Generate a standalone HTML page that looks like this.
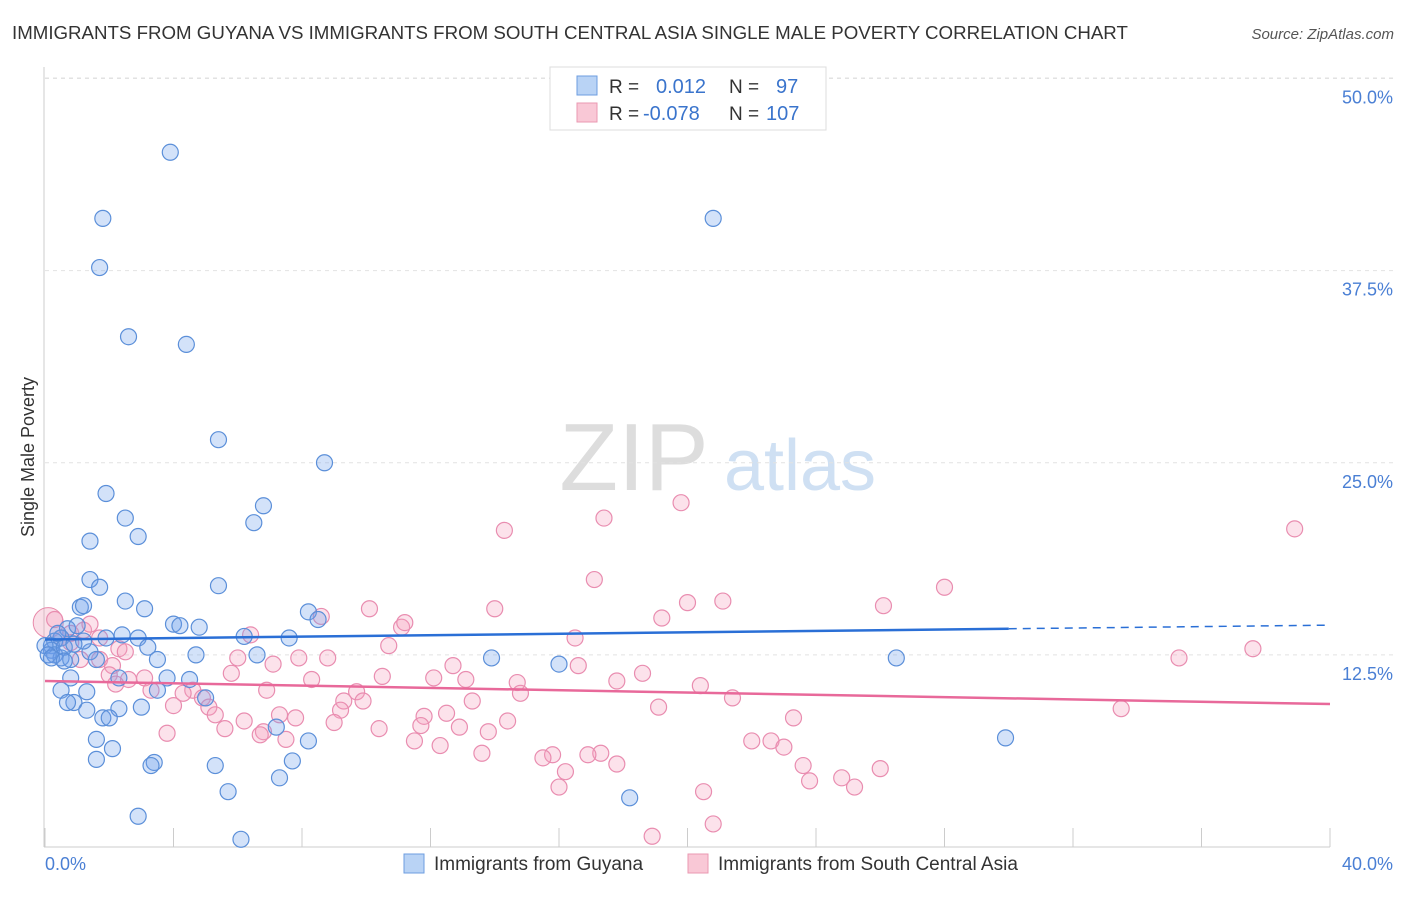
<!DOCTYPE html>
<html><head><meta charset="utf-8"><style>
body{margin:0;background:#fff;font-family:"Liberation Sans",sans-serif}
svg text{font-family:"Liberation Sans",sans-serif}
</style></head><body>
<svg id="c" width="1406" height="892">
<text x="12" y="39" font-size="18.7" fill="#333">IMMIGRANTS FROM GUYANA VS IMMIGRANTS FROM SOUTH CENTRAL ASIA SINGLE MALE POVERTY CORRELATION CHART</text>
<text x="1394" y="39" font-size="15" fill="#555" font-style="italic" text-anchor="end">Source: ZipAtlas.com</text>
<text x="634" y="490" font-size="96" fill="#ddd" font-family="Liberation Serif" text-anchor="middle">ZIP</text>
<text x="800" y="490" font-size="72" fill="#cfe0f3" text-anchor="middle">atlas</text>
<text x="34" y="457" font-size="18" fill="#333" transform="rotate(-90 34 457)" text-anchor="middle">Single Male Poverty</text>
<g id="grid"></g><g id="pts"></g><g id="lines"></g>
<g>
<rect x="550" y="67" width="276" height="63" fill="#fff" stroke="#ddd"/>
<rect x="577" y="76" width="20" height="19" fill="#b9d3f5" stroke="#6d9ee0"/>
<rect x="577" y="103" width="20" height="19" fill="#f9c8d6" stroke="#ea98b2"/>
<text x="609" y="93" font-size="19" fill="#333">R =</text><text x="656" y="93" font-size="20" fill="#3a74cc">0.012</text>
<text x="729" y="93" font-size="19" fill="#333">N =</text><text x="776" y="93" font-size="20" fill="#3a74cc">97</text>
<text x="609" y="120" font-size="19" fill="#333">R =</text><text x="643" y="120" font-size="20" fill="#3a74cc">-0.078</text>
<text x="729" y="120" font-size="19" fill="#333">N =</text><text x="766" y="120" font-size="20" fill="#3a74cc">107</text>
</g>
<g>
<rect x="404" y="854" width="20" height="19" fill="#b9d3f5" stroke="#6d9ee0"/>
<text x="434" y="870" font-size="19" fill="#333">Immigrants from Guyana</text>
<rect x="688" y="854" width="20" height="19" fill="#f9c8d6" stroke="#ea98b2"/>
<text x="718" y="870" font-size="19" fill="#333">Immigrants from South Central Asia</text>
</g>
</svg>
<script>
const xTicks=[0,4,8,12,16,20,24,28,32,36,40];
const yTicks=[12.5,25,37.5,50];
const yTickLabels=["12.5%","25.0%","37.5%","50.0%"];
const blueX=[3.9,1.8,20.8,1.7,2.6,4.4,5.4,8.7,1.9,6.8,2.5,6.5,2.9,1.4,1.4,5.4,1.7,2.5,3.1,8.2,1.1,1.2,8.5,4.0,4.8,4.2,6.2,7.6,2.4,2.9,1.9,0.7,1.0,0.5,0.3,0.2,0.2,0.3,0.5,0.8,0.6,1.4,3.2,3.5,6.6,13.9,16.0,26.5,4.7,3.8,4.5,2.3,0.8,0.5,1.3,3.5,5.0,0.9,0.7,1.3,2.3,3.0,1.8,2.0,1.6,2.1,1.6,3.4,3.3,5.3,7.7,8.2,7.2,29.9,5.7,7.3,18.2,2.9,6.1,0.0,0.1,0.2,0.6,0.4,1.2,1.6,0.9];
const blueY=[45.2,40.9,40.9,37.7,33.2,32.7,26.5,25.0,23.0,22.2,21.4,21.1,20.2,19.9,17.4,17.0,16.9,16.0,15.5,15.3,15.6,15.7,14.8,14.5,14.3,14.4,13.7,13.6,13.8,13.6,13.6,14.2,14.4,13.6,13.4,13.1,12.8,12.5,12.3,12.2,13.0,12.7,13.0,12.2,12.5,12.3,11.9,12.3,12.5,11.0,10.9,11.0,11.0,10.2,10.1,10.2,9.7,9.4,9.4,8.9,9.0,9.1,8.4,8.4,7.0,6.4,5.7,5.5,5.3,5.3,5.6,6.9,7.8,7.1,3.6,4.5,3.2,2.0,0.5,13.1,12.5,12.3,12.1,13.9,13.4,12.2,13.2];
const pinkX=[14.3,17.4,19.8,38.9,28.0,17.1,21.1,20.0,14.0,26.1,10.1,19.2,11.1,11.2,16.5,8.6,10.7,6.4,35.3,37.6,7.9,8.8,7.1,6.0,5.8,8.3,10.5,12.7,16.6,18.6,17.8,12.1,13.1,14.7,20.4,21.4,14.8,6.9,9.7,9.9,13.3,9.3,9.2,4.0,4.6,4.3,4.9,5.1,5.3,6.2,5.6,7.3,7.8,6.8,9.0,10.4,11.8,12.5,12.9,11.7,13.8,14.4,19.1,23.3,33.5,3.8,11.5,12.3,6.7,7.5,22.0,22.6,23.0,15.8,15.5,17.3,16.9,17.8,13.6,16.2,23.6,24.8,25.2,26.0,23.8,20.5,16.0,18.9,20.8,2.3,2.5,1.7,1.1,2.1,0.5,0.3,0.8,1.2,1.7,2.0,2.6,3.1,2.2,3.3,0.8,1.4];
const pinkY=[20.6,21.4,22.4,20.7,16.9,17.4,16.0,15.9,15.5,15.7,15.5,14.9,14.3,14.6,13.6,15.0,13.1,13.8,12.3,12.9,12.3,12.3,11.9,12.3,11.3,10.9,11.1,11.8,11.8,11.3,10.8,11.0,10.9,10.7,10.5,9.7,10.0,10.2,10.1,9.5,9.5,9.5,8.9,9.2,10.2,10.0,9.7,9.1,8.6,8.2,7.7,8.6,8.4,7.5,8.1,7.7,8.5,8.7,7.8,7.9,7.5,8.2,9.1,8.4,9.0,7.4,6.9,6.6,7.3,7.0,6.9,6.9,6.5,6.0,5.8,6.1,6.0,5.4,6.1,4.9,5.3,4.5,3.9,5.1,4.3,3.6,3.9,0.7,1.5,12.9,12.7,12.2,12.2,11.8,13.6,14.8,13.9,14.1,13.6,11.2,10.9,11.0,10.6,10.2,13.3,14.5];
const blueTrend=[13.5,14.2];
const pinkTrend=[10.8,9.3];
const X=v=>45+v*32.125, Y=v=>847-v*15.37;
const NS="http://www.w3.org/2000/svg";
function mk(p,t,a){const e=document.createElementNS(NS,t);for(const k in a)e.setAttribute(k,a[k]);p.appendChild(e);return e;}
const g=document.getElementById('grid'),pts=document.getElementById('pts'),ln=document.getElementById('lines');
yTicks.forEach((t,i)=>{
 const l=mk(g,'line',{x1:45,x2:1393,y1:Y(t),y2:Y(t),stroke:'#e2e2e2','stroke-dasharray':'4 4'});
 
 
 const tx=mk(g,'text',{x:1393,y:Y(t)+25,'font-size':18,fill:'#4a7fd4','text-anchor':'end'});tx.textContent=yTickLabels[i];
 
 
});
const topLine=mk(g,'line',{x1:45,x2:1393,y1:78,y2:78,stroke:'#e2e2e2','stroke-dasharray':'4 4'});


mk(g,'line',{x1:44,x2:44,y1:67,y2:847,stroke:'#ccc'});
mk(g,'line',{x1:44,x2:1330,y1:847,y2:847,stroke:'#ccc'});
xTicks.forEach(t=>{const l=mk(g,'line',{x1:X(t),x2:X(t),y1:828,y2:847,stroke:'#ccc'});
 
 });
const x0=mk(g,'text',{x:45,y:870,'font-size':18,fill:'#4a7fd4'});x0.textContent=xTicks[0].toFixed(1)+'%';


const x1=mk(g,'text',{x:1393,y:870,'font-size':18,fill:'#4a7fd4','text-anchor':'end'});x1.textContent=xTicks[xTicks.length-1].toFixed(1)+'%';


const big=mk(pts,'circle',{cx:X(0.1),cy:Y(14.6),r:15,fill:'rgba(240,150,180,0.3)',stroke:'#e88aaa'});


pinkX.forEach((v,i)=>{const c=mk(pts,'circle',{cx:X(v),cy:Y(pinkY[i]),r:8,fill:'rgba(244,160,188,0.3)',stroke:'#e98db0','stroke-width':1.2});
 
 });
blueX.forEach((v,i)=>{const c=mk(pts,'circle',{cx:X(v),cy:Y(blueY[i]),r:8,fill:'rgba(110,160,235,0.3)',stroke:'#5b8fd9','stroke-width':1.2});
 
 });
const bs=(blueTrend[1]-blueTrend[0])/30;
const bl=mk(ln,'line',{x1:X(0),y1:Y(blueTrend[0]),x2:X(30),y2:Y(blueTrend[1]),stroke:'#2a6fd6','stroke-width':2.5});


const bd=mk(ln,'line',{x1:X(30),y1:Y(blueTrend[1]),x2:X(40),y2:Y(blueTrend[1]+bs*10),stroke:'#2a6fd6','stroke-width':1.5,'stroke-dasharray':'8 6'});


const pl=mk(ln,'line',{x1:X(0),y1:Y(pinkTrend[0]),x2:X(40),y2:Y(pinkTrend[1]),stroke:'#e8699a','stroke-width':2.5});


</script>
</body></html>
